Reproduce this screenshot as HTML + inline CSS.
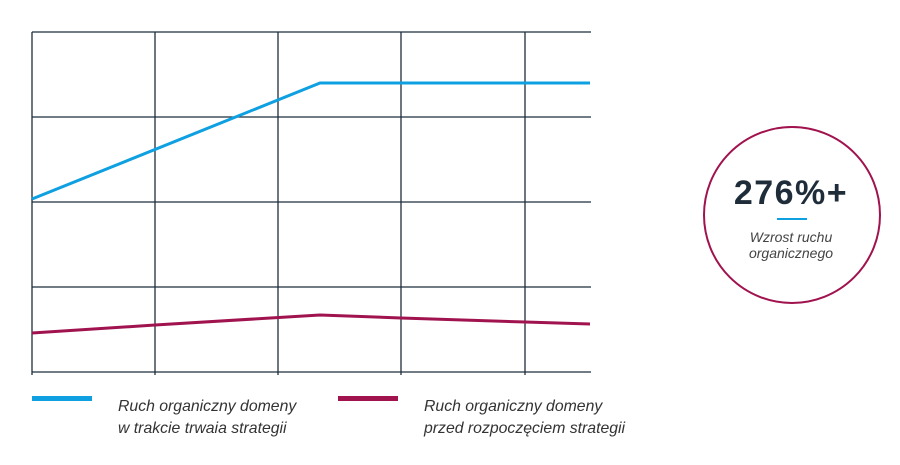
<!DOCTYPE html>
<html><head><meta charset="utf-8"><style>
body{margin:0;background:#fff;width:900px;height:460px;overflow:hidden}
svg text{font-family:"Liberation Sans",sans-serif}
</style></head><body>
<svg width="900" height="460" viewBox="0 0 900 460">
<g stroke="#1f2d3a" stroke-width="1.3" fill="none">
<line x1="32" y1="32" x2="591" y2="32"/>
<line x1="32" y1="117" x2="591" y2="117"/>
<line x1="32" y1="202" x2="591" y2="202"/>
<line x1="32" y1="287" x2="591" y2="287"/>
<line x1="32" y1="372" x2="591" y2="372"/>
<line x1="32" y1="32" x2="32" y2="375"/>
<line x1="155" y1="32" x2="155" y2="375"/>
<line x1="278" y1="32" x2="278" y2="375"/>
<line x1="401" y1="32" x2="401" y2="375"/>
<line x1="525" y1="32" x2="525" y2="375"/>
</g>
<polyline points="32,199 320,83 590,83" fill="none" stroke="#0ea0e0" stroke-width="3"/>
<polyline points="32,333 155,325 320,315 401,318 525,322 590,324" fill="none" stroke="#a0134f" stroke-width="3"/>
<rect x="32" y="396" width="60" height="5" fill="#0ea0e0"/>
<rect x="338" y="396" width="60" height="5" fill="#a0134f"/>
<g font-style="italic" font-size="15.8" fill="#333">
<text x="118" y="411">Ruch organiczny domeny</text>
<text x="118" y="433">w trakcie trwaia strategii</text>
<text x="424" y="411">Ruch organiczny domeny</text>
<text x="424" y="433">przed rozpoczęciem strategii</text>
</g>
<circle cx="792" cy="215" r="88" fill="none" stroke="#a0134f" stroke-width="2"/>
<text x="791" y="204" text-anchor="middle" font-size="34" font-weight="bold" letter-spacing="1.5" fill="#1f2d3a">276%+</text>
<rect x="777" y="218" width="30" height="2" fill="#0ea0e0"/>
<g font-style="italic" font-size="14" fill="#444" text-anchor="middle">
<text x="791" y="242">Wzrost ruchu</text>
<text x="791" y="258">organicznego</text>
</g>
</svg>
</body></html>
